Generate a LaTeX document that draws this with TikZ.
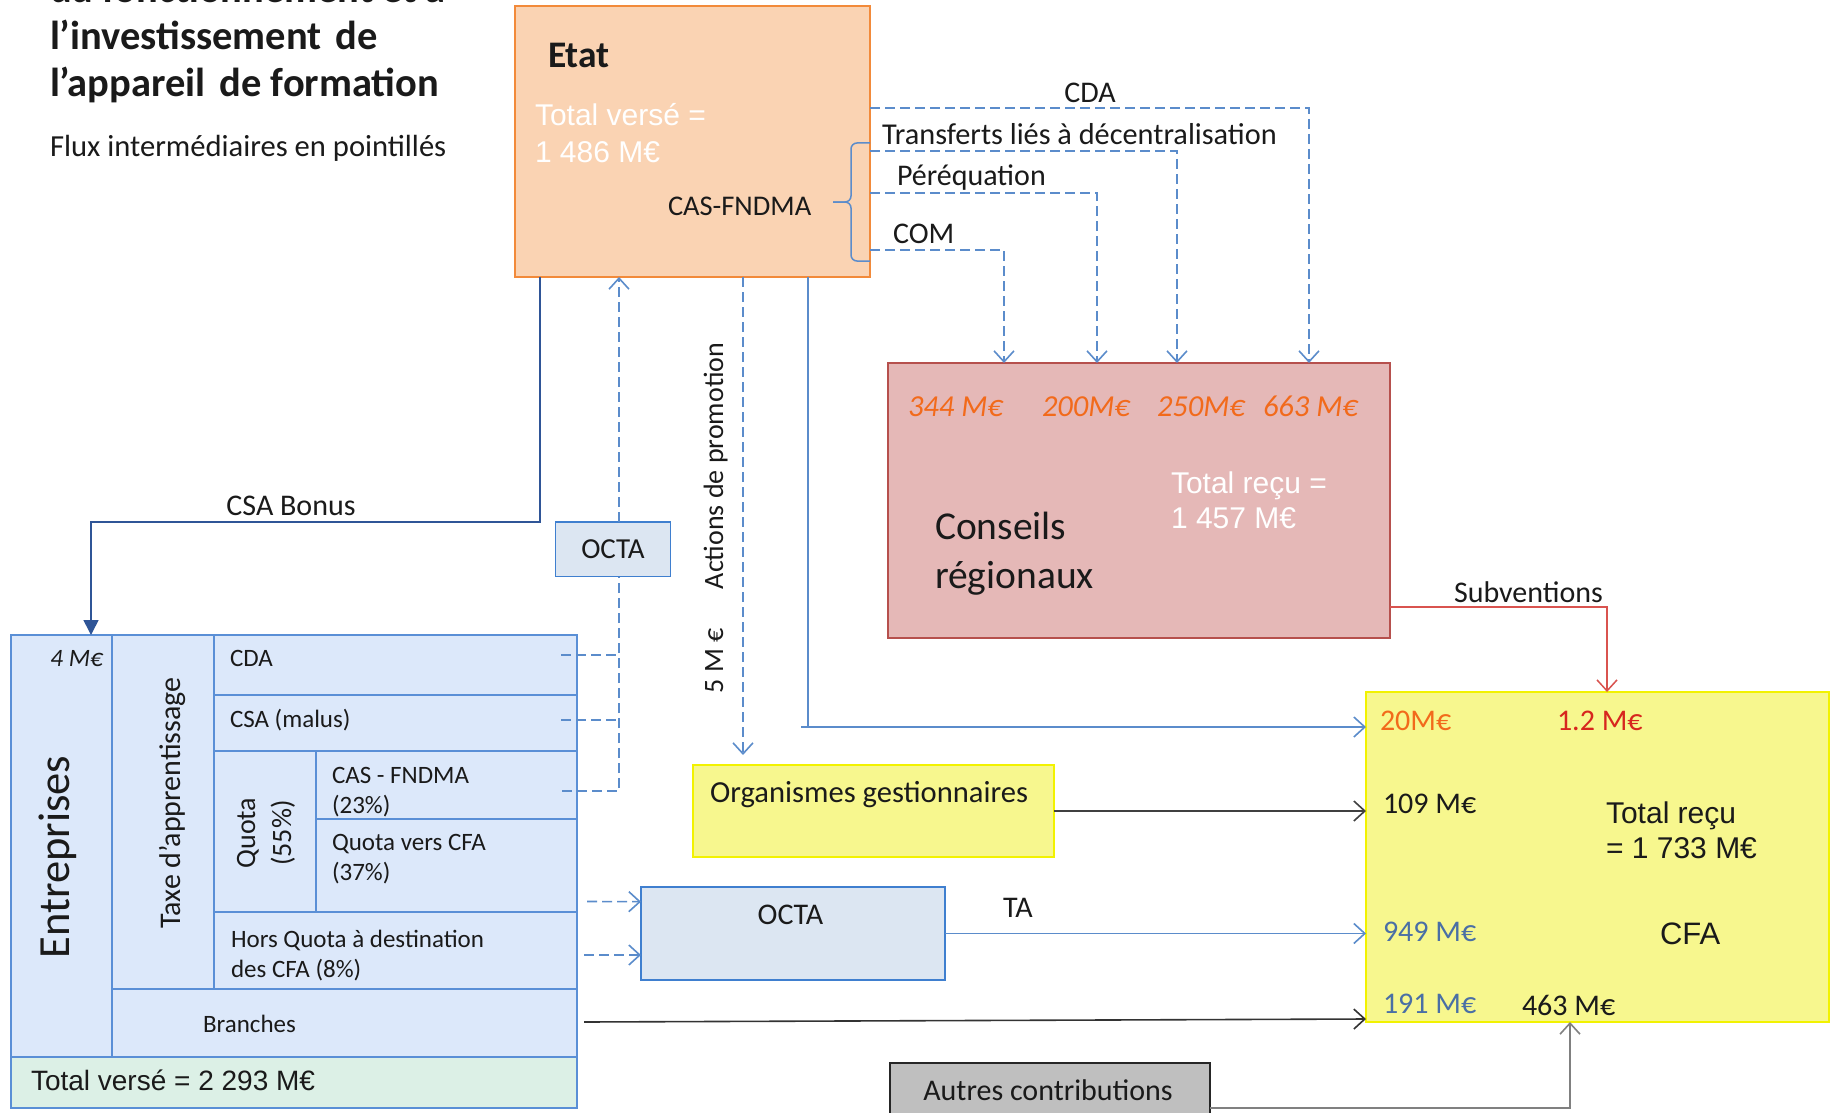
\documentclass[tikz,border=0pt]{standalone}
\usepackage{fontspec}
\setmainfont{Carlito}
\newfontfamily\arialf{Liberation Sans}
\usetikzlibrary{arrows.meta,calc}
\definecolor{etatfill}{HTML}{FAD3B3}
\definecolor{etatdraw}{HTML}{F28A3A}
\definecolor{crfill}{HTML}{E5B8B7}
\definecolor{crdraw}{HTML}{B6504D}
\definecolor{cfafill}{HTML}{F7F78E}
\definecolor{cfadraw}{HTML}{F2F200}
\definecolor{octafill}{HTML}{DCE6F2}
\definecolor{octadraw}{HTML}{3F7FCF}
\definecolor{entfill}{HTML}{DCE8FA}
\definecolor{entdraw}{HTML}{5A8FD6}
\definecolor{totfill}{HTML}{DCF0E6}
\definecolor{flowblue}{HTML}{5B8CCB}
\definecolor{darkblue}{HTML}{2F5597}
\definecolor{orangetxt}{HTML}{F26A1B}
\definecolor{redtxt}{HTML}{D7261E}
\definecolor{bluetxt}{HTML}{4A6FA5}
\definecolor{subred}{HTML}{D9534F}
\definecolor{greybox}{HTML}{BFBFBF}
\definecolor{txtblack}{HTML}{1A1A1A}
\begin{document}
\begin{tikzpicture}[x=1pt,y=-1pt,
  box/.style={rectangle,inner sep=0pt,outer sep=0pt,anchor=north west,line width=1.5pt},
  ebox/.style={box,draw=entdraw,fill=entfill,line width=1.3pt},
  fs/.style={font=\fontsize{#1}{#1}\selectfont},
  fsb/.style={font=\fontsize{#1}{#1}\selectfont\bfseries},
  fsi/.style={font=\fontsize{#1}{#1}\selectfont\itshape},
  fsa/.style={font=\fontsize{#1}{#1}\selectfont\arialf},
  tl/.style={inner sep=0pt,outer sep=0pt,anchor=base west,text=txtblack},
  tc/.style={inner sep=0pt,outer sep=0pt,anchor=base,text=txtblack},
  dflow/.style={draw=flowblue,line width=1.6pt,dash pattern=on 10pt off 5pt},
  bflow/.style={draw=flowblue,line width=1.6pt},
  gflow/.style={draw=black!75,line width=1.6pt},
  arr/.style={-{Straight Barb[length=11pt,width=20pt]}},
]
\clip (0,0) rectangle (1831,1113);
\fill[white] (0,0) rectangle (1831,1113);

% Title
\node[tl,fsb=40.5] (t0) at (50,3) {du fonctionnement et à};
\node[tl,fsb=40.5] (t1) at (50,50) {l’investissement\hspace{0.12em} de};
\node[tl,fsb=40.5] (t2) at (50,97) {l’appareil\hspace{0.12em} de formation};
\node[tl,fs=30.6] (sub) at (50,157) {Flux intermédiaires en pointillés};

% Etat
\node[box,draw=etatdraw,fill=etatfill,minimum width=355pt,minimum height=271pt] (etat) at (515,6) {};
\node[tl,fsb=37.5] (etatt) at (548,68) {Etat};
\node[tl,fsa=30,text=white] (etv1) at (535,126) {Total versé =};
\node[tl,fsa=30,text=white] (etv2) at (535,162) {1 486 M€};
\node[tl,fs=28.5] (casf) at (668,215) {CAS-FNDMA};
\draw[flowblue,line width=1.5pt,rounded corners=6pt] (870,143) -- (851,143) -- (851,202) -- (833,202);
\draw[flowblue,line width=1.5pt,rounded corners=6pt] (870,261) -- (851,261) -- (851,202) -- (833,202);

% Conseils regionaux
\node[box,draw=crdraw,fill=crfill,minimum width=502pt,minimum height=275pt] (cr) at (888,363) {};
\node[tl,fsi=30.5,text=orangetxt] (a344) at (908,416) {344 M€};
\node[tl,fsi=30.5,text=orangetxt] (a200) at (1042,416) {200M€};
\node[tl,fsi=30.5,text=orangetxt] (a250) at (1157,416) {250M€};
\node[tl,fsi=30.5,text=orangetxt] (a663) at (1263,416) {663 M€};
\node[tl,fsa=30,text=white] (crt1) at (1171,493) {Total reçu =};
\node[tl,fsa=30,text=white] (crt2) at (1171,528) {1 457 M€};
\node[tl,fs=39.5] (crn1) at (935,539) {Conseils};
\node[tl,fs=39.5] (crn2) at (935,588) {régionaux};

% CFA
\node[box,draw=cfadraw,fill=cfafill,minimum width=463pt,minimum height=330pt] (cfa) at (1366,692) {};
\node[tl,fs=30,text=orangetxt] (c20) at (1380,730) {20M€};
\node[tl,fs=30,text=redtxt] (c12) at (1557,730) {1.2 M€};
\node[tl,fs=30] (c109) at (1383,813) {109 M€};
\node[tl,fsa=30] (ctot1) at (1606,823) {Total reçu};
\node[tl,fsa=30] (ctot2) at (1606,858) {= 1 733 M€};
\node[tl,fs=30,text=bluetxt] (c949) at (1383,941) {949 M€};
\node[tl,fsa=31] (cname) at (1660,944) {CFA};
\node[tl,fs=30,text=bluetxt] (c191) at (1383,1013) {191 M€};
\node[tl,fs=30] (c463) at (1522,1015) {463 M€};

% Organismes gestionnaires
\node[box,draw=cfadraw,fill=cfafill,minimum width=361pt,minimum height=92pt] (org) at (693,765) {};
\node[tl,fs=30.6] (orgt) at (710,802) {Organismes gestionnaires};

% OCTA
\node[box,draw=octadraw,fill=octafill,minimum width=114.6pt,minimum height=54.7pt,fs=29,text=txtblack] (octas) at (555.7,521.8) {OCTA};
\node[box,draw=octadraw,fill=octafill,minimum width=304pt,minimum height=93pt] (octab) at (641,887) {};
\node[tc,fs=30] (octabt) at (790.5,924) {OCTA};

% Autres contributions
\node[box,draw=black!85,fill=greybox,minimum width=320pt,minimum height=70pt] (autres) at (890,1063) {};
\node[tc,fs=30] (autrest) at (1048,1100) {Autres contributions};

% Entreprises
\node[ebox,minimum width=566pt,minimum height=473pt] (ent) at (11,635) {};
\node[ebox,minimum width=102pt,minimum height=354pt] (taxe) at (112,635) {};
\node[ebox,minimum width=363pt,minimum height=60pt] (cda) at (214,635) {};
\node[ebox,minimum width=363pt,minimum height=56pt] (csa) at (214,695) {};
\node[ebox,minimum width=102pt,minimum height=161pt] (quota) at (214,751) {};
\node[ebox,minimum width=261pt,minimum height=68pt] (cas) at (316,751) {};
\node[ebox,minimum width=261pt,minimum height=93pt] (qcfa) at (316,819) {};
\node[ebox,minimum width=363pt,minimum height=77pt] (hq) at (214,912) {};
\node[ebox,minimum width=465pt,minimum height=68pt] (branches) at (112,989) {};
\node[ebox,fill=totfill,minimum width=566pt,minimum height=51pt] (total) at (11,1057) {};

\node[tl,fs=25] (tcda) at (230,666) {CDA};
\node[tl,fs=25] (tcsa) at (230,727) {CSA (malus)};
\node[tl,fs=25] (tcas1) at (332,783) {CAS - FNDMA};
\node[tl,fs=25] (tcas2) at (332,813) {(23\%)};
\node[tl,fs=25] (tq1) at (332,850) {Quota vers CFA};
\node[tl,fs=25] (tq2) at (332,880) {(37\%)};
\node[tl,fs=25] (thq1) at (231,947) {Hors Quota à destination};
\node[tl,fs=25] (thq2) at (231,977) {des CFA (8\%)};
\node[tl,fs=25] (tbr) at (203,1032) {Branches};
\node[tl,fsa=28] (ttot) at (31,1090) {Total versé = 2 293 M€};
\node[inner sep=0pt,anchor=base east,fsi=25,text=txtblack] (t4) at (103,666) {4 M€};
\node[tc,fs=44.5,rotate=90] (tent) at (69,857) {Entreprises};
\node[tc,fs=30,rotate=90] (ttaxe) at (180,803) {Taxe d’apprentissage};
\node[tc,fs=28,rotate=90] (tquota1) at (255,833) {Quota};
\node[tc,fs=28,rotate=90] (tquota2) at (291,833) {(55\%)};

% Etat -> Conseils (dashed)
\draw[dflow,arr] ($(etat.north east)+(0,102)$) -| ($(cr.north west)+(421,0)$);
\draw[dflow,arr] ($(etat.north east)+(0,145)$) -| ($(cr.north west)+(289,0)$);
\draw[dflow,arr] ($(etat.north east)+(0,187)$) -| ($(cr.north west)+(209,0)$);
\draw[dflow,arr] ($(etat.north east)+(0,244)$) -| ($(cr.north west)+(116,0)$);
\node[tc,fs=30] (lcda) at (1090,103) {CDA};
\node[tl,fs=30.3] (ltr) at (882,145) {Transferts liés à décentralisation};
\node[tl,fs=30] (lper) at (897,185) {Péréquation};
\node[tl,fs=30] (lcom) at (893,243) {COM};

% Subventions
\draw[subred,line width=1.5pt,arr] ($(cr.north east)+(0,244)$) -| ($(cfa.north west)+(241,0)$);
\node[tl,fs=30] (lsub) at (1454,602) {Subventions};

% CSA Bonus
\coordinate (csab) at ($(etat.south west)+(25,0)$);
\draw[darkblue,line width=1.6pt,-{Triangle[length=15pt,width=15pt]}] (csab) -- ++(0,244.7) -| ($(ent.north west)+(80,0)$);
\node[tc,fs=30] (lcsab) at (291,515) {CSA Bonus};

% Entreprises -> OCTA -> Etat
\coordinate (vbot) at ($(octas.south)+(6,0)$);
\coordinate (vtop) at ($(octas.north)+(6,0)$);
\coordinate (scda) at ($(cda.east)+(-16,-10)$);
\coordinate (scsa) at ($(csa.east)+(-16,-3)$);
\coordinate (scas) at ($(cas.east)+(-15,6)$);
\draw[dflow] (scda) -- (scda -| vbot);
\draw[dflow] (scsa) -- (scsa -| vbot);
\draw[dflow] (scas) -| (vbot);
\draw[dflow,arr] (vtop) -- (vtop |- etat.south);

% Actions de promotion
\coordinate (act) at ($(etat.south west)+(228,0)$);
\draw[dflow,arr] (act) -- ($(act |- org.north)+(0,-10)$);
\node[tc,fs=28,rotate=90] (lact) at (723,466) {Actions de promotion};
\node[tc,fs=28,rotate=90] (l5) at (723,661) {5 M €};

% Etat -> CFA (20 M€)
\coordinate (p20) at ($(etat.south west)+(293,0)$);
\coordinate (e20) at ($(cfa.north west)+(0,35)$);
\draw[bflow] (p20) -- (p20 |- e20);
\draw[bflow,arr] ($(p20 |- e20)+(-7,0)$) -- (e20);

% Organismes -> CFA
\draw[gflow,arr] (org.east) -- (org.east -| cfa.west);

% Quota -> OCTA
\draw[dflow,arr] ($(qcfa.east)+(10,36)$) -- ($(octab.north west)+(0,14.7)$);
\draw[dflow,arr] ($(hq.east)+(7,4.5)$) -- ($(octab.north west)+(0,68)$);

% OCTA -> CFA (TA)
\draw[bflow,arr] (octab.east) -- (octab.east -| cfa.west);
\node[tc,fs=30] (lta) at (1018,917) {TA};

% Branches -> CFA
\draw[gflow,draw=black!80,arr] ($(branches.east)+(7,-1)$) -- ($(cfa.south west)+(0,-3)$);

% Autres -> CFA
\draw[draw=black!50,line width=1.6pt,arr] ($(autres.north east)+(0,44.7)$) -| ($(cfa.south west)+(204,0)$);
\end{tikzpicture}
\end{document}
